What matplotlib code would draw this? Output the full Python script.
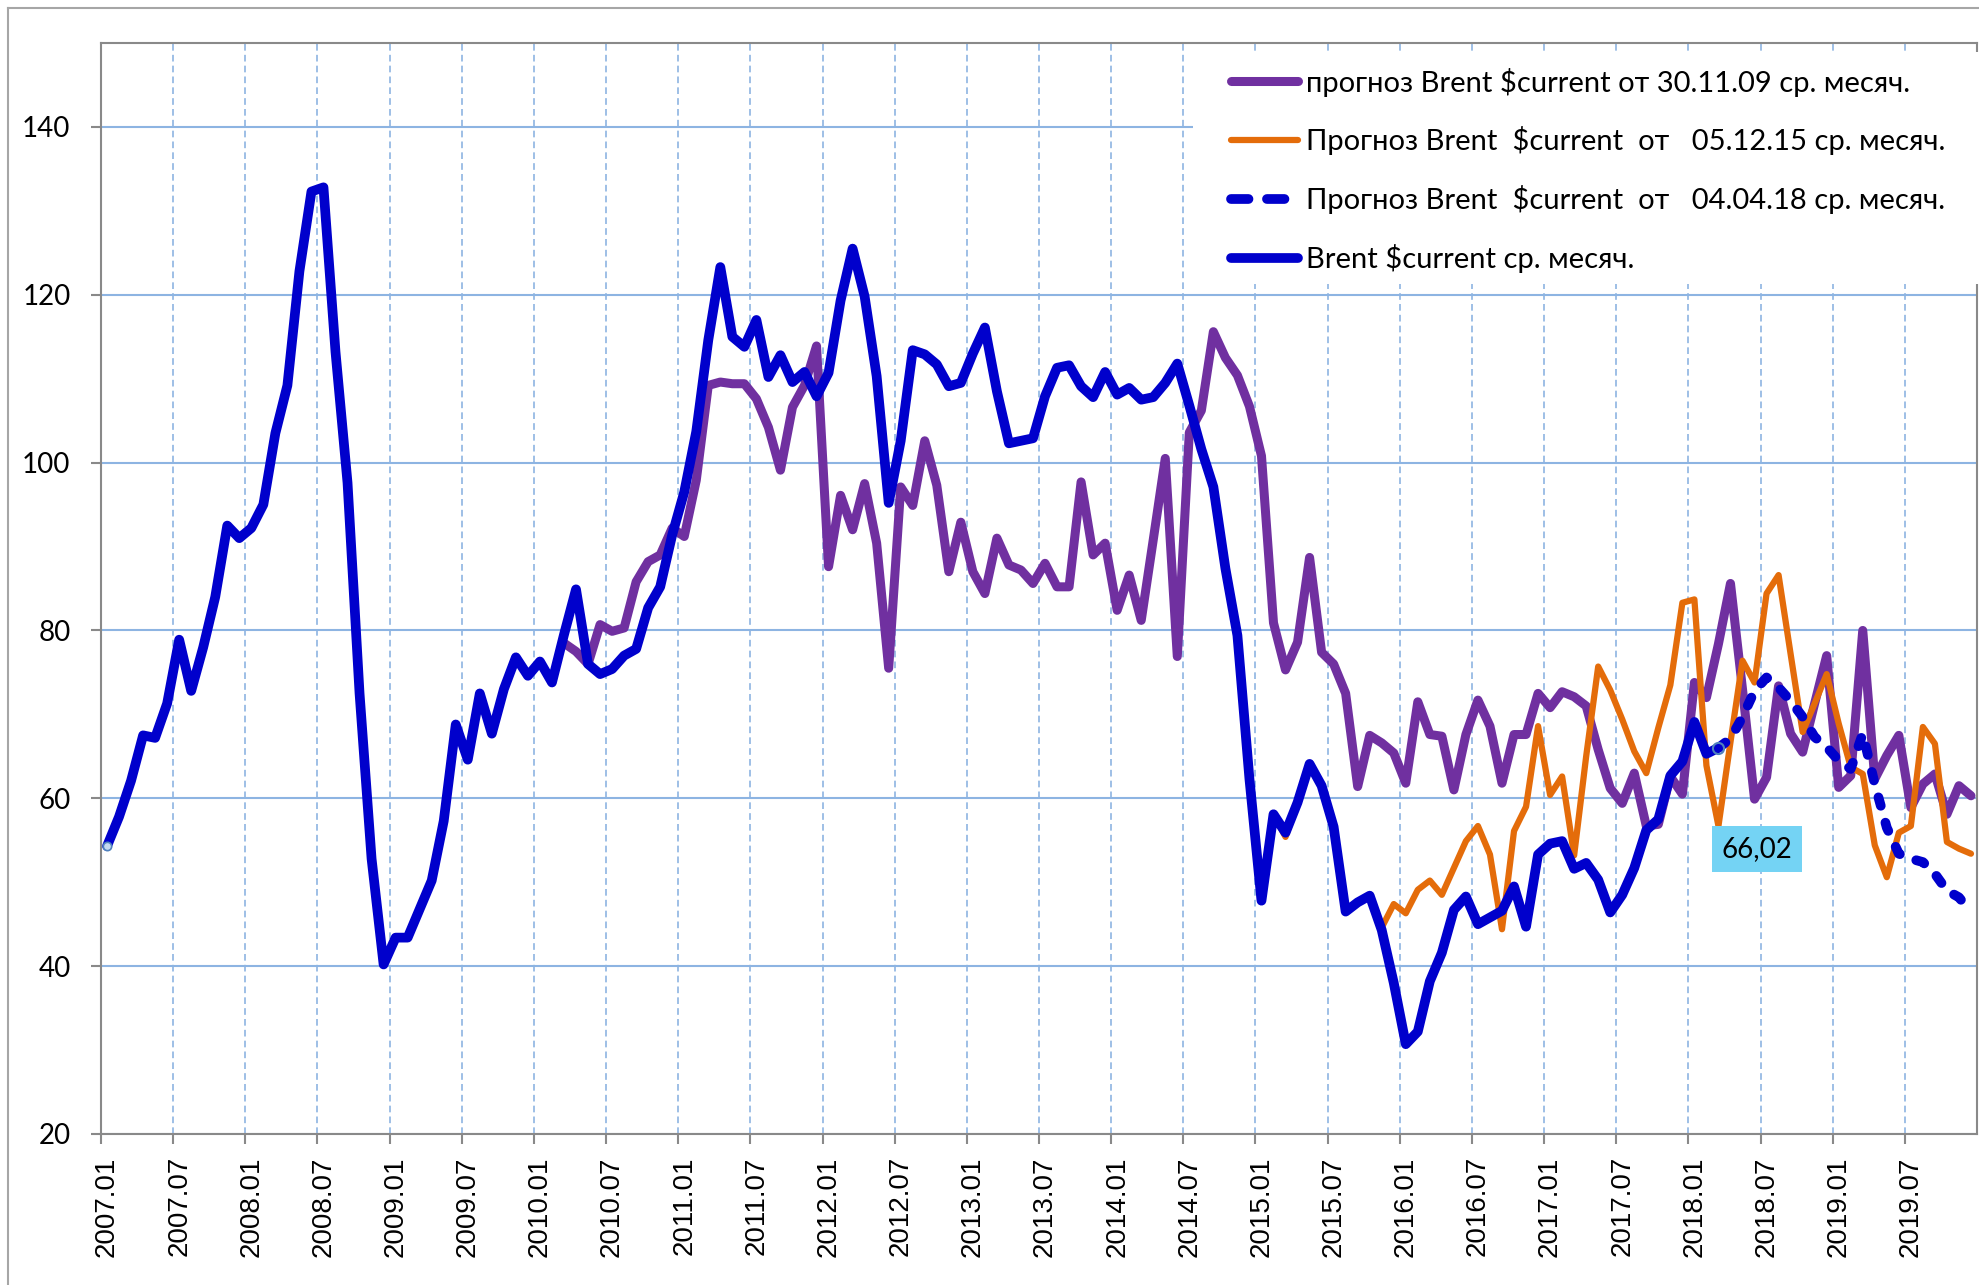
import numpy as np
import matplotlib
matplotlib.use("Agg")
import matplotlib.pyplot as plt
from matplotlib.lines import Line2D
from matplotlib.patches import Rectangle

plt.rcParams["font.family"] = ["Lato", "DejaVu Sans"]

# monthly categories 2007.01 .. 2019.12
START_YEAR = 2007
N_MONTHS = 156
months = [f"{START_YEAR + i // 12}.{i % 12 + 1:02d}" for i in range(N_MONTHS)]

# Brent $current, monthly average (2007.01 .. 2018.03)
brent = [
    54.3, 57.8, 62.1, 67.5, 67.2, 71.3, 78.9, 72.8, 78.0, 84.0, 92.5, 91.0,
    92.2, 95.0, 103.5, 109.2, 122.8, 132.3, 132.8, 113.2, 97.6, 72.5, 52.8, 40.2,
    43.4, 43.4, 46.8, 50.2, 57.3, 68.8, 64.6, 72.5, 67.7, 73.0, 76.8, 74.6,
    76.3, 73.8, 79.5, 84.9, 76.0, 74.8, 75.4, 77.0, 77.8, 82.7, 85.2, 91.4,
    96.5, 103.7, 114.6, 123.3, 115.0, 113.8, 117.0, 110.2, 112.8, 109.6, 110.8, 107.9,
    110.7, 119.3, 125.5, 119.8, 110.3, 95.2, 102.6, 113.4, 112.9, 111.7, 109.1, 109.5,
    113.0, 116.1, 108.5, 102.3, 102.6, 102.9, 107.9, 111.3, 111.6, 109.1, 107.8, 110.8,
    108.1, 108.9, 107.5, 107.8, 109.5, 111.8, 106.8, 101.6, 97.1, 87.4, 79.4, 62.3,
    47.8, 58.1, 55.9, 59.5, 64.1, 61.5, 56.6, 46.5, 47.6, 48.4, 44.3, 38.0,
    30.7, 32.2, 38.2, 41.6, 46.7, 48.3, 45.0, 45.8, 46.6, 49.5, 44.7, 53.3,
    54.6, 54.9, 51.6, 52.3, 50.3, 46.4, 48.5, 51.7, 56.2, 57.5, 62.7, 64.4,
    69.1, 65.3, 66.02,
]

# forecast of 30.11.09 (from 2010.03)
f2009_start = 38
forecast_2009 = [
    78.5, 77.5, 76.0, 80.7, 79.9, 80.3, 85.8, 88.2, 89.0, 92.2,
    91.2, 97.9, 109.2, 109.6, 109.4, 109.4, 107.6, 104.2, 99.1, 106.6, 109.2, 113.9,
    87.6, 96.1, 92.0, 97.5, 90.4, 75.5, 97.1, 94.9, 102.6, 97.3, 87.0, 92.9,
    87.0, 84.4, 91.0, 87.8, 87.2, 85.6, 88.0, 85.2, 85.2, 97.7, 89.0, 90.4,
    82.4, 86.6, 81.2, 90.8, 100.5, 76.9, 103.6, 106.2, 115.6, 112.5, 110.4, 106.7,
    100.8, 80.9, 75.3, 78.6, 88.7, 77.4, 76.0, 72.5, 61.4, 67.5, 66.6, 65.4,
    61.8, 71.5, 67.6, 67.4, 61.0, 67.6, 71.7, 68.6, 61.8, 67.6, 67.6, 72.5,
    70.8, 72.7, 72.1, 71.0, 65.8, 61.2, 59.4, 63.0, 56.7, 56.9, 62.6, 60.5,
    73.8, 72.0, 78.4, 85.6, 73.0, 59.9, 62.5, 73.4, 67.7, 65.5, 71.3, 77.0,
    61.3, 62.7, 80.0, 62.3, 65.1, 67.5, 58.9, 61.7, 62.9, 58.1, 61.5, 60.3,
]

# forecast of 05.12.15 (from 2015.01)
f2015_start = 96
forecast_2015 = [
    47.8, 58.1, 55.4, 59.5, 64.1, 61.5, 56.6, 46.5, 47.6, 48.4, 44.6, 47.4,
    46.3, 49.1, 50.2, 48.5, 51.7, 54.9, 56.7, 53.3, 44.4, 56.1, 59.0, 68.6,
    60.4, 62.6, 53.2, 65.0, 75.7, 72.9, 69.4, 65.6, 63.0, 68.4, 73.5, 83.3,
    83.7, 63.9, 56.7, 66.7, 76.4, 73.8, 84.4, 86.6, 77.2, 67.9, 71.3, 74.8,
    68.9, 63.7, 62.9, 54.4, 50.6, 55.9, 56.7, 68.5, 66.5, 54.8, 54.0, 53.4,
]

# forecast of 04.04.18 (from 2018.03)
f2018_start = 134
forecast_2018 = [
    66.02, 67.1, 69.7, 72.8, 74.4, 73.2, 71.6, 69.7, 67.3, 66.1,
    64.5, 63.5, 67.7, 61.7, 56.5, 53.4, 52.8, 52.4, 51.0, 49.0, 48.2, 46.4,
]

legend_labels = [
    "прогноз Brent $current от 30.11.09 ср. месяч.",
    "Прогноз Brent  $current  от   05.12.15 ср. месяч.",
    "Прогноз Brent  $current  от   04.04.18 ср. месяч.",
    "Brent $current ср. месяч.",
]

PURPLE = "#7030A0"
ORANGE = "#E46C0A"
BLUE = "#0000CC"
GRID = "#8DB4E2"
AXIS = "#898989"

W, H = 1979, 1285
fig = plt.figure(figsize=(W / 100, H / 100), dpi=100)
ax = fig.add_axes([101 / W, 1 - 1134 / H, (1977 - 101) / W, (1134 - 43) / H])


def span(start, values):
    return np.arange(start, start + len(values)), values


x, y = span(f2009_start, forecast_2009)
ax.plot(x, y, color=PURPLE, lw=6.5, solid_joinstyle="round", solid_capstyle="round", zorder=3)
x, y = span(f2015_start, forecast_2015)
ax.plot(x, y, color=ORANGE, lw=4.5, solid_joinstyle="round", solid_capstyle="round", zorder=4)
x, y = span(f2018_start, forecast_2018)
ax.plot(x, y, color=BLUE, lw=7, dashes=(0.9, 1.8), dash_capstyle="round", zorder=5)
x, y = span(0, brent)
ax.plot(x, y, color=BLUE, lw=7, solid_joinstyle="round", solid_capstyle="round", zorder=6)

# selected points (hollow circles as in the source)
ax.plot([0], [brent[0]], "o", ms=6, mfc="#C5D9F1", mec="#4F81BD", mew=1.2, zorder=7)
ax.plot([f2018_start], [forecast_2018[0]], "o", ms=8, mfc="none", mec="#4F81BD", mew=1.5, zorder=7)

lab = f"{forecast_2018[0]:.2f}".replace(".", ",")
ax.annotate(lab, xy=(f2018_start, forecast_2018[0]), xytext=(28, -73),
            textcoords="offset points", ha="center", va="center", fontsize=20,
            bbox=dict(boxstyle="square,pad=0.35", fc="#74D3F4", ec="none"), zorder=8)

ax.set_xlim(-0.5, N_MONTHS - 0.5)
ax.set_ylim(20, 150)

ax.set_xticks(range(0, N_MONTHS, 6))
ax.set_xticklabels(months[::6], rotation=90, fontsize=20, family="Liberation Sans")
ax.set_xticks(np.arange(-0.5, N_MONTHS - 6, 6), minor=True)
ax.tick_params(axis="x", which="major", length=0, pad=16)
ax.tick_params(axis="x", which="minor", length=7, width=1.5, color=AXIS)

ax.set_yticks(range(20, 141, 20))
ax.tick_params(axis="y", length=7, width=1.5, color=AXIS, labelsize=20, pad=15)

ax.grid(which="minor", axis="x", color=GRID, lw=1.2, ls=(0, (4, 2.5)))
ax.grid(which="major", axis="y", color=GRID, lw=1.5, ls="-")
ax.set_axisbelow(True)

for s in ax.spines.values():
    s.set_color(AXIS)
    s.set_linewidth(1.5)

# white legend area covering the grid
fig.add_artist(Rectangle((1193 / W, 1 - 284 / H), (W - 1193) / W, (284 - 52) / H,
                         transform=fig.transFigure, fc="white", ec="none", zorder=2))

handles = [
    Line2D([], [], color=PURPLE, lw=6.5, solid_capstyle="round"),
    Line2D([], [], color=ORANGE, lw=4.5, solid_capstyle="round"),
    Line2D([], [], color=BLUE, lw=7, dashes=(1.8, 1.9), dash_capstyle="round"),
    Line2D([], [], color=BLUE, lw=7, solid_capstyle="round"),
]
leg = fig.legend(handles, legend_labels, loc="upper left",
                 bbox_to_anchor=(1216 / W, 1 - 53 / H), borderaxespad=0,
                 fontsize=21, handlelength=2.3, handletextpad=0.3,
                 labelspacing=1.02, borderpad=0.5, frameon=False)
leg.set_zorder(5)

# chart area border
fig.add_artist(Line2D([8 / W, 8 / W], [0, 1 - 8 / H], color="#A6A6A6", lw=1.5))
fig.add_artist(Line2D([8 / W, 1], [1 - 8 / H, 1 - 8 / H], color="#A6A6A6", lw=1.5))

fig.savefig("out.png", dpi=100)
